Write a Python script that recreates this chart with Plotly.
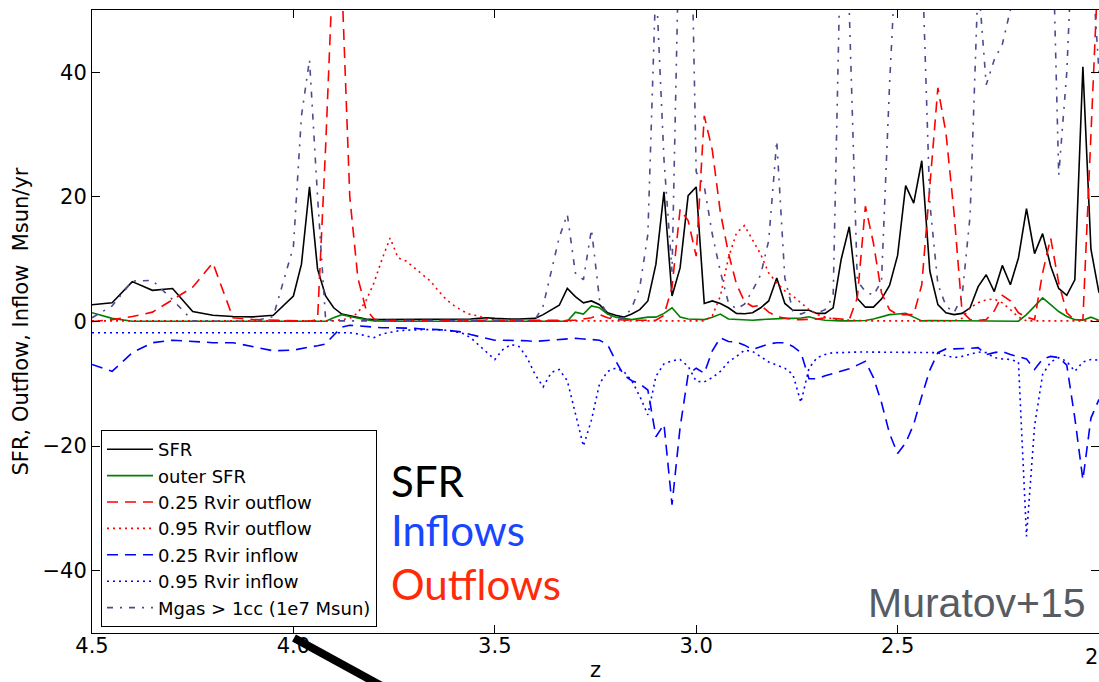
import plotly.graph_objects as go

# ---------------- data ----------------
z = [4.5, 4.45, 4.4, 4.35, 4.3, 4.25, 4.2, 4.15, 4.1, 4.05,
     4.00, 3.98, 3.96, 3.94, 3.92, 3.90, 3.88, 3.86, 3.84, 3.82,
     3.80, 3.78, 3.76, 3.74, 3.72, 3.70, 3.68, 3.66, 3.64, 3.62,
     3.60, 3.58, 3.56, 3.54, 3.52, 3.50, 3.48, 3.46, 3.44, 3.42,
     3.40, 3.38, 3.36, 3.34, 3.32, 3.30, 3.28, 3.26, 3.24, 3.22,
     3.20, 3.18, 3.16, 3.14, 3.12, 3.10, 3.08, 3.06, 3.04, 3.02,
     3.00, 2.98, 2.96, 2.94, 2.92, 2.90, 2.88, 2.86, 2.84, 2.82,
     2.80, 2.78, 2.76, 2.74, 2.72, 2.70, 2.68, 2.66, 2.64, 2.62,
     2.60, 2.58, 2.56, 2.54, 2.52, 2.50, 2.48, 2.46, 2.44, 2.42,
     2.40, 2.38, 2.36, 2.34, 2.32, 2.30, 2.28, 2.26, 2.24, 2.22,
     2.20, 2.18, 2.16, 2.14, 2.12, 2.10, 2.08, 2.06, 2.04, 2.02,
     2.00]

sfr = [2.7, 3.0, 6.4, 5.0, 5.3, 1.6, 1.0, 0.8, 0.75, 1.0,
       4.1, 9.2, 21.6, 8.4, 4.1, 2.2, 1.2, 0.9, 0.6, 0.4,
       0.3, 0.3, 0.3, 0.3, 0.3, 0.3, 0.3, 0.3, 0.3, 0.3,
       0.4, 0.4, 0.4, 0.5, 0.6, 0.5, 0.4, 0.4, 0.4, 0.4,
       0.5, 1.1, 1.9, 2.6, 5.3, 4.0, 3.0, 3.3, 2.7, 1.4,
       1.0, 0.7, 1.2, 1.9, 3.3, 9.2, 20.8, 4.1, 8.6, 20.2,
       21.6, 2.9, 3.3, 2.9, 2.2, 1.3, 1.25, 1.4, 2.2, 3.3,
       7.0, 2.9, 1.8, 1.8, 1.8, 1.3, 1.3, 2.2, 10.0, 15.2,
       3.7, 2.3, 2.3, 3.6, 5.8, 10.6, 21.8, 19.0, 25.8, 8.1,
       2.7, 1.4, 1.1, 1.3, 2.2, 5.6, 7.5, 4.8, 9.0, 5.9,
       10.2, 18.1, 10.9, 14.1, 8.9, 5.3, 4.2, 6.7, 40.9, 11.6,
       4.6]

outer_sfr = [1.4, 0.5, 0.05, 0.05, 0.05, 0.05, 0.05, 0.05, 0.05, 0.05,
             0.05, 0.05, 0.05, 0.05, 0.05, 0.6, 1.1, 0.8, 0.5, 0.3,
             0.1, 0.05, 0.05, 0.05, 0.05, 0.05, 0.05, 0.05, 0.05, 0.05,
             0.05, 0.05, 0.05, 0.05, 0.05, 0.05, 0.05, 0.05, 0.05, 0.05,
             0.05, 0.05, 0.05, 0.05, 0.05, 1.5, 1.2, 2.5, 2.2, 1.2,
             0.7, 0.5, 0.3, 0.5, 0.7, 0.7, 1.3, 2.2, 0.7, 0.4,
             0.3, 0.3, 0.7, 1.2, 0.4, 0.3, 0.2, 0.2, 0.3, 0.4,
             0.5, 0.5, 0.5, 0.55, 0.75, 0.4, 0.2, 0.1, 0.1, 0.1,
             0.1, 0.15, 0.4, 0.8, 1.1, 1.2, 1.3, 0.7, 0.1, 0.15,
             0.15, 0.15, 0.15, 0.1, 0.1, 0.1, 0.1, 0.1, 0.1, 0.05,
             0.05, 1.1, 2.5, 3.8, 2.7, 1.6, 0.8, 0.3, 0.2, 0.7,
             0.2]

out_025 = [0.0, 0.3, 0.8, 1.5, 3.5, 5.5, 9.4, 0.6, 0.3, 0.2,
           0.1, 0.05, 0.05, 0.3, 28.0, 60.0, 55.0, 20.0, 7.0, 2.0,
           0.4, 0.2, 0.2, 0.2, 0.2, 0.2, 0.2, 0.2, 0.2, 0.2,
           0.2, 0.2, 0.2, 0.2, 0.2, 0.2, 0.2, 0.2, 0.2, 0.2,
           0.2, 0.2, 0.2, 0.2, 0.2, 0.2, 0.4, 0.6, 1.1, 0.6,
           0.3, 0.2, 0.2, 0.2, 0.2, 0.2, 1.0, 5.5, 18.0, 16.2,
           10.5, 33.0, 27.5, 17.5, 11.0, 6.0, 3.2, 2.4, 2.6, 1.5,
           0.8, 0.5, 0.3, 0.3, 0.3, 0.4, 0.6, 0.5, 0.4, 0.3,
           3.8, 18.5, 12.6, 4.6, 1.9, 1.1, 1.1, 1.1, 5.9, 21.3,
           37.5, 30.3, 17.5, 1.6, 0.3, 0.2, 0.3, 1.7, 4.2, 3.3,
           1.4, 0.7, 0.3, 7.8, 13.4, 6.2, 1.4, 0.2, 0.3, 30.0,
           60.0]

out_095 = [0.1, 0.1, 0.1, 0.1, 0.1, 0.1, 0.1, 0.1, 0.1, 0.1,
           0.1, 0.1, 0.1, 0.1, 0.1, 0.1, 0.3, 0.5, 1.4, 3.3,
           6.2, 10.0, 13.4, 10.2, 9.7, 8.6, 7.5, 6.5, 4.9, 3.5,
           2.5, 1.7, 1.1, 0.9, 0.4, 0.2, 0.1, 0.1, 0.1, 0.1,
           0.1, 0.1, 0.1, 0.1, 0.1, 0.1, 0.1, 0.1, 0.1, 0.1,
           0.1, 0.1, 0.1, 0.1, 0.1, 0.1, 0.1, 0.1, 0.1, 0.1,
           0.1, 0.1, 0.9, 4.1, 10.2, 14.2, 15.4, 13.2, 10.8, 7.8,
           6.2, 4.9, 4.1, 3.0, 1.9, 1.1, 0.7, 0.4, 0.3, 0.2,
           0.1, 0.1, 0.1, 0.1, 0.1, 0.1, 0.1, 0.1, 0.1, 0.1,
           0.1, 0.1, 0.1, 0.5, 2.2, 3.0, 3.5, 3.6, 3.0, 1.9,
           0.7, 0.1, 0.1, 0.1, 0.1, 0.1, 0.1, 0.1, 0.1, 0.1,
           0.1]

in_025 = [-6.9, -8.0, -5.0, -3.4, -3.0, -3.2, -3.4, -3.4, -4.0, -4.7,
          -4.6, -4.3, -4.1, -3.9, -3.6, -2.2, -0.9, -0.6, -0.7, -0.9,
          -1.0, -1.0, -1.0, -1.0, -1.1, -1.1, -1.2, -1.2, -1.3, -1.4,
          -1.5, -1.7, -2.1, -2.4, -2.8, -3.0, -3.0, -3.0, -3.1, -3.1,
          -3.2, -3.1, -3.0, -2.9, -2.8, -2.7, -2.8, -2.9, -3.0, -3.7,
          -6.3, -8.6, -9.5, -10.0, -11.0, -18.5, -16.5, -29.4, -17.0, -8.5,
          -7.5, -8.3, -4.7, -2.6, -3.2, -3.3, -3.8, -4.5, -4.1, -3.6,
          -3.4, -3.4, -4.0, -5.0, -9.2, -9.2, -8.7, -8.3, -8.0, -7.6,
          -7.0, -6.4, -9.0, -13.0, -18.0, -21.2, -19.5, -16.5, -12.0, -7.8,
          -5.0, -4.4, -4.4, -4.4, -4.3, -4.2, -5.3, -5.0, -4.8, -5.3,
          -5.6, -6.0, -7.7, -6.0, -5.6, -5.8, -7.0, -15.5, -25.4, -15.5,
          -12.5]

in_095 = [-1.8, -1.8, -1.8, -1.8, -1.8, -1.8, -1.8, -1.8, -1.8, -1.8,
          -1.8, -1.8, -1.8, -1.8, -1.8, -1.8, -1.7, -1.8, -2.0, -2.3,
          -2.6, -2.0, -1.7, -1.5, -1.4, -1.3, -1.3, -1.3, -1.3, -1.4,
          -1.6, -1.9, -2.6, -3.8, -5.0, -6.1, -4.5, -3.7, -4.0, -5.8,
          -8.5, -10.5, -8.2, -7.7, -9.5, -15.0, -20.0, -15.8, -10.0, -8.0,
          -7.5, -8.0, -9.5, -12.0, -15.0, -8.8, -6.8, -6.3, -6.1, -7.2,
          -9.6, -9.7, -9.0, -8.0, -6.5, -5.6, -4.6, -4.8, -5.6, -6.5,
          -7.0, -7.5, -8.5, -13.0, -7.5, -5.8, -5.3, -5.0, -5.0, -4.9,
          -4.9, -4.9, -4.9, -4.9, -4.9, -4.9, -4.9, -4.9, -4.9, -4.9,
          -5.0, -5.5, -5.8, -5.6, -5.2, -4.9, -5.0, -5.8, -6.0, -6.1,
          -6.5, -34.5, -16.8, -8.5, -6.5, -5.8, -6.4, -8.0, -6.5, -6.1,
          -6.2]

mgas = [0.6, 2.5, 6.5, 6.6, 3.5, 0.1, 0.05, 0.05, 0.05, 0.8,
        12.0, 33.0, 42.0, 20.0, 0.3, 0.1, 0.1, 0.1, 0.1, 0.1,
        0.1, 0.1, 0.1, 0.1, 0.1, 0.1, 0.1, 0.1, 0.1, 0.1,
        0.1, 0.1, 0.1, 0.1, 0.1, 0.1, 0.1, 0.1, 0.1, 0.1,
        0.3, 2.5, 8.0, 13.5, 17.2, 7.8, 6.7, 14.8, 3.5, 1.0,
        0.3, 0.5, 2.2, 5.5, 14.0, 55.0, 26.0, 8.0, 70.0, 90.0,
        24.0, 21.7, 14.0, 8.0, 3.0, 2.0, 2.8, 5.0, 7.5, 13.0,
        29.0, 7.0, 1.7, 1.2, 1.7, 1.4, 1.9, 4.0, 65.0, 50.0,
        6.5, 4.8, 4.2, 6.5, 38.0, 70.0, 90.0, 90.0, 60.0, 19.0,
        6.0, 2.5, 1.4, 4.0, 17.0, 55.0, 38.0, 42.0, 44.5, 50.0,
        65.0, 90.0, 90.0, 90.0, 75.0, 23.5, 40.0, 70.0, 70.0, 60.0,
        40.0]

series_names = ["SFR", "outer SFR", "0.25 Rvir outflow", "0.95 Rvir outflow",
                "0.25 Rvir inflow", "0.95 Rvir inflow", "Mgas > 1cc (1e7 Msun)"]
x_ticks = [4.5, 4.0, 3.5, 3.0, 2.5, 2.0]
x_ticktext = ["4.5", "4.0", "3.5", "3.0", "2.5", "2.0"]
y_ticks = [-40, -20, 0, 20, 40]

# ---------------- figure ----------------
W, H = 1099, 682
ML, MR, MT, MB = 92, 0, 10, 49
PW, PH = W - ML - MR, H - MT - MB


def px(xp):
    return (xp - ML) / PW


def py(yp):
    return (H - MB - yp) / PH


styles = [
    dict(color="black", dash="solid"),
    dict(color="#008000", dash="solid"),
    dict(color="#ff0000", dash="11px,7px"),
    dict(color="#ff0000", dash="2px,4px"),
    dict(color="#0000ff", dash="11px,7px"),
    dict(color="#0000ff", dash="2px,4px"),
    dict(color="#4b4b8f", dash="6px,7px,2px,7px"),
]
data = [sfr, outer_sfr, out_025, out_095, in_025, in_095, mgas]

fig = go.Figure()
for name, vals, st in zip(series_names, data, styles):
    fig.add_trace(go.Scatter(x=z, y=vals, mode="lines", name=name,
                             line=dict(color=st["color"], dash=st["dash"], width=1.6),
                             hoverinfo="skip"))

# empty helper trace so the right-hand tick axis is drawn
fig.add_trace(go.Scatter(x=[], y=[], yaxis="y2", showlegend=False, hoverinfo="skip"))

fig.update_layout(
    width=W, height=H,
    margin=dict(l=ML, r=MR, t=MT, b=MB),
    paper_bgcolor="white", plot_bgcolor="white",
    font=dict(family="DejaVu Sans", color="black", size=21),
    xaxis=dict(range=[4.5, 2.0], tickvals=x_ticks, ticktext=x_ticktext,
               ticks="inside", ticklen=8, tickcolor="black", tickwidth=1,
               showline=True, linecolor="black", linewidth=1, mirror="ticks",
               showgrid=False, zeroline=False, ticklabelstandoff=-6,
               tickfont=dict(size=21),
               title=dict(text="z", font=dict(size=21), standoff=7)),
    yaxis=dict(range=[-50, 50], tickvals=y_ticks,
               ticks="inside", ticklen=8, tickcolor="black", tickwidth=1,
               showline=True, linecolor="black", linewidth=1, mirror=False,
               showgrid=False, zeroline=False,
               tickfont=dict(size=21),
               title=dict(text="SFR, Outflow, Inflow  Msun/yr", font=dict(size=21), standoff=8)),
    yaxis2=dict(range=[-50, 50], tickvals=y_ticks, overlaying="y", side="right",
                anchor="x", ticks="inside", ticklen=8, tickcolor="black", tickwidth=1,
                showticklabels=False, showline=False, showgrid=False, zeroline=False),
    legend=dict(x=px(101), y=py(430), xanchor="left", yanchor="top",
                bgcolor="white", bordercolor="black", borderwidth=1,
                itemwidth=46,
                font=dict(size=18, family="DejaVu Sans"), traceorder="normal"),
    showlegend=True,
)

# partially visible last tick label at the right edge (cut by the frame edge, as in the reference)
fig.add_annotation(x=px(1101), y=py(643), xref="paper", yref="paper",
                   text="2.0", showarrow=False, xanchor="center", yanchor="top",
                   font=dict(family="DejaVu Sans", size=21, color="black"))

# big labels
big = [("SFR", "black", 481), ("Inflows", "#1846ff", 530), ("Outflows", "#ff2a0a", 584)]
for txt, col, yc in big:
    fig.add_annotation(x=px(389), y=py(yc), xref="paper", yref="paper",
                       text=txt, showarrow=False, xanchor="left", yanchor="middle",
                       font=dict(family="Lato", size=42, color=col))

fig.add_annotation(x=px(1088), y=py(603), xref="paper", yref="paper",
                   text="Muratov+15", showarrow=False, xanchor="right", yanchor="middle",
                   font=dict(family="Liberation Sans", size=41, color="#575c63"))

# thick diagonal pointer line at the bottom
fig.add_shape(type="line", xref="paper", yref="paper",
              x0=px(294), y0=py(638), x1=px(400), y1=py(696),
              line=dict(color="black", width=8))

fig.write_html("out.html")
